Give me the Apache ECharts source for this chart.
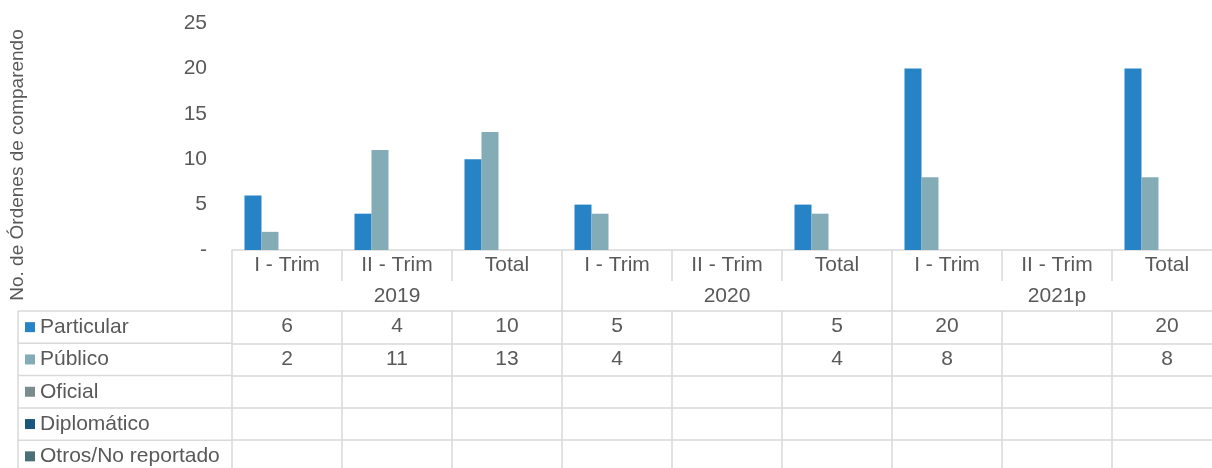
<!DOCTYPE html>
<html>
<head>
<meta charset="utf-8">
<script src="https://cdn.jsdelivr.net/npm/echarts@6/dist/echarts.min.js"></script>
<style>html,body{margin:0;padding:0;background:#fff;overflow:hidden}#c{width:1222px;height:500px}</style>
</head>
<body>
<div id="c"></div>
<script>
const quarters = ['I - Trim','II - Trim','Total','I - Trim','II - Trim','Total','I - Trim','II - Trim','Total'];
const years = ['2019','2020','2021p'];
const seriesNames = ['Particular','Público','Oficial','Diplomático','Otros/No reportado'];
const particular = [6, 4, 10, 5, null, 5, 20, null, 20];
const publico = [2, 11, 13, 4, null, 4, 8, null, 8];
const oficial = [null, null, null, null, null, null, null, null, null];
const diplomatico = [null, null, null, null, null, null, null, null, null];
const otros = [null, null, null, null, null, null, null, null, null];
const yTicks = [0, 5, 10, 15, 20, 25];
const yTitle = 'No. de Órdenes de comparendo';

const colors = ['#2683C6', '#84ACB6', '#7A8C8E', '#1B567C', '#4A6F76'];
const FONT = "'Liberation Sans', Arial, sans-serif";
const TXT = '#595959';
const LINE = '#D9D9D9';
const FS = 21;

const gridLeft = 232, gridTop = 23, gridH = 227, gridW = 990;
const axisY = gridTop + gridH;           // 250
const tableLeft = 18;
const rowH = 32.3;
const headerRow1 = 31;                    // quarter row height
const headerRow2 = 61;                    // quarter + year rows
const rowData = [particular, publico, oficial, diplomatico, otros];

const chart = echarts.init(document.getElementById('c'), null, {renderer: 'canvas'});

const xAxes = [
  {
    type: 'category', data: quarters, gridIndex: 0, position: 'bottom', offset: 0,
    axisLine: {show: true, lineStyle: {color: LINE, width: 1.5}},
    axisTick: {show: true, interval: 0, length: headerRow1, lineStyle: {color: LINE, width: 1.5}},
    axisLabel: {interval: 0, margin: 5, fontSize: FS, lineHeight: FS, color: TXT, fontFamily: FONT}
  },
  {
    type: 'category', data: years, gridIndex: 0, position: 'bottom', offset: 0,
    axisLine: {show: false},
    axisTick: {show: true, interval: 0, length: headerRow2, lineStyle: {color: LINE, width: 1.5}},
    axisLabel: {interval: 0, margin: 36, fontSize: FS, lineHeight: FS, color: TXT, fontFamily: FONT}
  }
];
rowData.forEach((arr, r) => {
  const off = headerRow2 + r * rowH;
  xAxes.push({
    type: 'category', data: quarters, gridIndex: 0, position: 'bottom', offset: off,
    axisLine: {show: true, lineStyle: {color: LINE, width: 1.5}},
    axisTick: {show: true, interval: 0, length: r === rowData.length - 1 ? rowH + 10 : rowH, lineStyle: {color: LINE, width: 1.5}},
    axisLabel: {
      interval: 0, margin: 5, fontSize: FS, lineHeight: FS, color: TXT, fontFamily: FONT,
      formatter: (v, i) => (arr[i] == null ? '' : String(arr[i]))
    }
  });
});

const graphics = [];
rowData.forEach((arr, r) => {
  const y = axisY + headerRow2 + r * rowH;
  graphics.push({type: 'line', shape: {x1: tableLeft, y1: y, x2: gridLeft, y2: y}, style: {stroke: LINE, lineWidth: 1.5}, silent: true});
});
graphics.push({type: 'line', shape: {x1: tableLeft, y1: axisY + headerRow2, x2: tableLeft, y2: 500}, style: {stroke: LINE, lineWidth: 1.5}, silent: true});
graphics.push({
  type: 'text', x: 18, y: 165, rotation: Math.PI / 2,
  style: {text: yTitle, fontSize: 19, fill: TXT, fontFamily: FONT, align: 'center', verticalAlign: 'middle'}
});

const seriesData = [particular, publico, oficial, diplomatico, otros];
const option = {
  animation: false,
  backgroundColor: '#fff',
  color: colors,
  textStyle: {fontFamily: FONT},
  grid: {left: gridLeft, top: gridTop, width: gridW, height: gridH, containLabel: false},
  legend: {
    orient: 'vertical', left: 25, top: axisY + headerRow2 + rowH / 2 - FS / 2,
    padding: 0, height: 200,
    itemWidth: 10, itemHeight: 10, itemGap: rowH - FS, icon: 'rect',
    textStyle: {fontSize: FS, lineHeight: FS, color: TXT, fontFamily: FONT},
    data: seriesNames
  },
  xAxis: xAxes,
  yAxis: {
    type: 'value', min: 0, max: 25, interval: 5,
    axisLine: {show: false}, axisTick: {show: false}, splitLine: {show: false},
    axisLabel: {margin: 25, fontSize: FS, color: TXT, fontFamily: FONT,
      formatter: v => (yTicks.indexOf(v) >= 0 ? (v === 0 ? '-' : String(v)) : '')}
  },
  graphic: graphics,
  series: seriesNames.map((name, i) => ({
    name, type: 'bar', xAxisIndex: 0, yAxisIndex: 0, data: seriesData[i],
    barGap: '0%', barCategoryGap: '22.7%',
    itemStyle: {color: colors[i]}
  }))
};
chart.setOption(option);
</script>
</body>
</html>
